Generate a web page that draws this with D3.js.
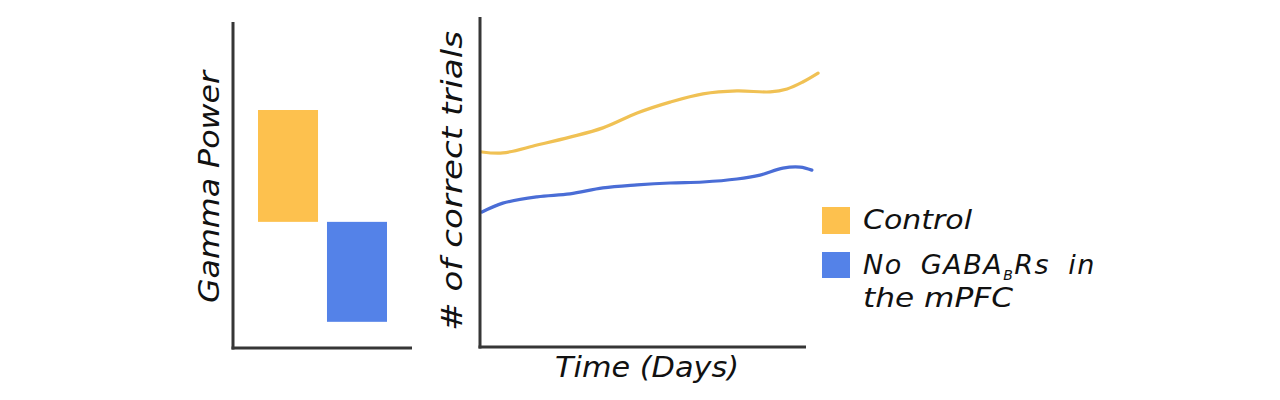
<!DOCTYPE html>
<html><head><meta charset="utf-8">
<script src="https://cdn.jsdelivr.net/npm/d3@7"></script>
<style>
html,body{margin:0;padding:0;background:#fff;}
svg text{font-family:"DejaVu Sans",sans-serif;font-style:oblique;fill:#111;}
</style></head>
<body>
<svg id="chart" width="1280" height="400"></svg>
<script>
// Left panel: floating bars (relative gamma power)
const barGroups = ["Control", "No GABABRs in the mPFC"];
const barLow  = [53, 11];
const barHigh = [100, 53];

// Right panel: learning curves (relative units)
const days = [0.6, 7, 17.5, 27.6, 37.7, 48.2, 58.3, 68.4, 78.8, 89, 94.2, 99, 103.7];
const controlTrials = [59.1, 58.8, 61.2, 63.6, 66.4, 70.9, 74.2, 76.7, 77.6, 77.3, 78.2, 80.3, 83.0];
const daysKO = [0.6, 7, 17.5, 27.6, 37.7, 48.2, 58.3, 68.4, 78.8, 85.9, 92.9, 98.2, 101.8];
const koTrials = [40.9, 43.6, 45.5, 46.4, 48.2, 49.1, 49.7, 50.0, 50.9, 52.1, 54.2, 54.5, 53.6];

const colors = ["#FDC14E", "#5482E8"];
const lineColors = ["#F0C154", "#4A6DD6"];
const axisColor = "#363636";

const svg = d3.select("#chart");

// ---- Left panel ----
const L = {x0: 233, x1: 412, y0: 22, y1: 348};
const bx = d3.scaleBand().domain(barGroups).range([258, 387]).paddingInner(0.13).paddingOuter(0);
const by = d3.scaleLinear().domain([0, 100]).range([L.y1, 110]);

svg.selectAll("rect.bar").data(barGroups).enter().append("rect")
  .attr("class", "bar")
  .attr("x", d => bx(d))
  .attr("width", bx.bandwidth())
  .attr("y", (d,i) => by(barHigh[i]))
  .attr("height", (d,i) => by(barLow[i]) - by(barHigh[i]))
  .attr("fill", (d,i) => colors[i]);

svg.append("line").attr("x1", L.x0).attr("x2", L.x0).attr("y1", L.y0).attr("y2", L.y1 + 1.5)
  .attr("stroke", axisColor).attr("stroke-width", 3);
svg.append("line").attr("x1", L.x0 - 1.5).attr("x2", L.x1).attr("y1", L.y1).attr("y2", L.y1)
  .attr("stroke", axisColor).attr("stroke-width", 3);

svg.append("text").attr("transform", "translate(219,187) rotate(-90)")
  .attr("text-anchor", "middle").attr("font-size", 28)
  .attr("textLength", 232).attr("lengthAdjust", "spacingAndGlyphs")
  .text("Gamma Power");

// ---- Right panel ----
const R = {x0: 480, x1: 806, y0: 17, y1: 347};
const x = d3.scaleLinear().domain([0, 100]).range([R.x0, R.x1]);
const y = d3.scaleLinear().domain([0, 100]).range([R.y1, R.y0]);

const line = d3.line().x(d => x(d[0])).y(d => y(d[1])).curve(d3.curveCatmullRom.alpha(0.5));

svg.append("path").datum(days.map((d,i) => [d, controlTrials[i]]))
  .attr("d", line).attr("fill", "none").attr("stroke", lineColors[0])
  .attr("stroke-width", 3.2).attr("stroke-linecap", "round");
svg.append("path").datum(daysKO.map((d,i) => [d, koTrials[i]]))
  .attr("d", line).attr("fill", "none").attr("stroke", lineColors[1])
  .attr("stroke-width", 3.2).attr("stroke-linecap", "round");

svg.append("line").attr("x1", R.x0).attr("x2", R.x0).attr("y1", R.y0).attr("y2", R.y1 + 1.5)
  .attr("stroke", axisColor).attr("stroke-width", 3);
svg.append("line").attr("x1", R.x0 - 1.5).attr("x2", R.x1).attr("y1", R.y1).attr("y2", R.y1)
  .attr("stroke", axisColor).attr("stroke-width", 3);

svg.append("text").attr("transform", "translate(462,181) rotate(-90)")
  .attr("text-anchor", "middle").attr("font-size", 28)
  .attr("textLength", 300).attr("lengthAdjust", "spacingAndGlyphs")
  .text("# of correct trials");

svg.append("text").attr("x", 647).attr("y", 377)
  .attr("text-anchor", "middle").attr("font-size", 28)
  .attr("textLength", 184).attr("lengthAdjust", "spacingAndGlyphs")
  .text("Time (Days)");

// ---- Legend ----
const legend = svg.append("g");
legend.append("rect").attr("x", 822).attr("y", 207).attr("width", 28).attr("height", 27).attr("fill", colors[0]);
legend.append("rect").attr("x", 822).attr("y", 252).attr("width", 28).attr("height", 26).attr("fill", colors[1]);
legend.append("text").attr("x", 863).attr("y", 229).attr("font-size", 27)
  .attr("textLength", 109).attr("lengthAdjust", "spacingAndGlyphs").text("Control");
const t2 = legend.append("text").attr("x", 863).attr("y", 274).attr("font-size", 27)
  .attr("word-spacing", 8).attr("letter-spacing", 1.5);
t2.append("tspan").text("No GABA");
t2.append("tspan").attr("font-size", 14).attr("dy", 6).text("B");
t2.append("tspan").attr("dy", -6).text("Rs in");
legend.append("text").attr("x", 863).attr("y", 307).attr("font-size", 27)
  .attr("textLength", 150).attr("lengthAdjust", "spacingAndGlyphs").text("the mPFC");
</script>
</body></html>
